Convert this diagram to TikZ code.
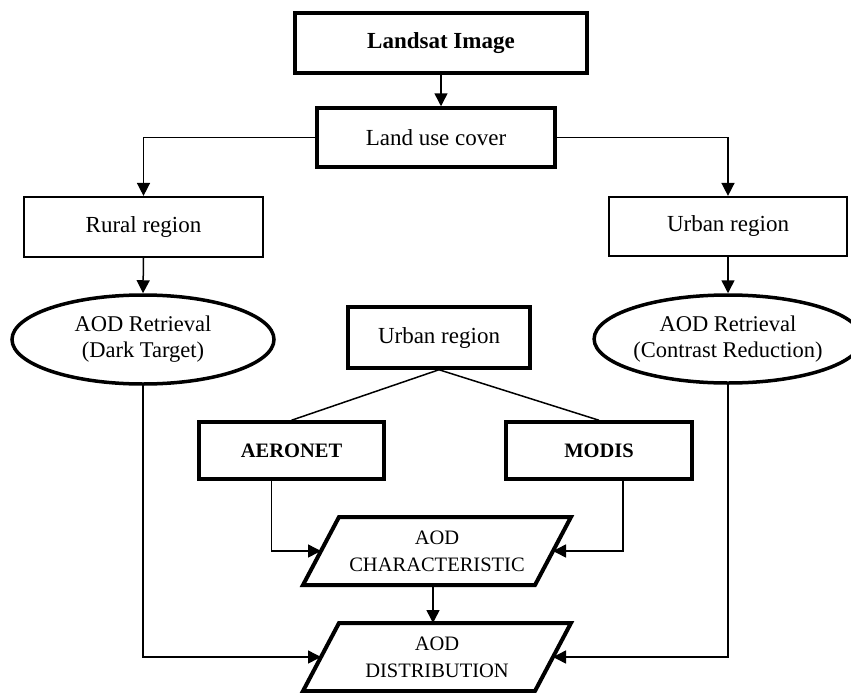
\documentclass[tikz,border=0pt]{standalone}
\usepackage{fontspec}
\setmainfont{Liberation Serif}
\usetikzlibrary{arrows.meta,shapes.geometric,calc}
\begin{document}
\begin{tikzpicture}[x=1pt,y=-1pt,
  box/.style={draw, line width=3.5pt, inner sep=0pt, align=center, font=\fontsize{23}{26}\selectfont},
  thinbox/.style={draw, line width=2.2pt, inner sep=0pt, align=center, font=\fontsize{23}{26}\selectfont},
  smallbold/.style={font=\fontsize{20.5}{24}\selectfont\bfseries},
  oval/.style={ellipse, draw, line width=3.5pt, inner sep=0pt, align=center, font=\fontsize{22.5}{26}\selectfont},
  conn/.style={line width=1.5pt},
  arr/.style={conn, -{Triangle[length=13pt,width=13pt]}},
  ptext/.style={align=center, inner sep=0pt, font=\fontsize{20.5}{27}\selectfont},
  para/.style={line width=4pt, line join=miter}
]
\useasboundingbox[fill=white] (0,0) rectangle (851,693);

% boxes
\node[box, minimum width=292, minimum height=60] (landsat) at (441,43) {\textbf{Landsat Image}};
\node[box, minimum width=238, minimum height=59] (landuse) at (436,137.5) {Land use cover};
\node[thinbox, minimum width=239, minimum height=60] (rural) at (143.5,227) {Rural region};
\node[thinbox, minimum width=238, minimum height=59] (urbanR) at (728,226.5) {Urban region};
\node[oval, minimum width=262, minimum height=89] (aodL) at (143,339.5) {AOD Retrieval\\(Dark Target)};
\node[oval, minimum width=266, minimum height=88] (aodR) at (728,339) {AOD Retrieval\\(Contrast Reduction)};
\node[box, minimum width=182, minimum height=61] (urbanM) at (439,337.5) {Urban region};
\node[box, smallbold, minimum width=185, minimum height=57] (aer) at (291.5,450.5) {AERONET};
\node[box, smallbold, minimum width=186, minimum height=57] (modis) at (599,450.5) {MODIS};

% parallelograms
\coordinate (c1) at (437,551);
\coordinate (c2) at (437,657);
\draw[para] ($(c1)+(-98,-34)$) -- ($(c1)+(134,-34)$) -- ($(c1)+(98,34)$) -- ($(c1)+(-134,34)$) -- cycle;
\draw[para] ($(c2)+(-98,-34)$) -- ($(c2)+(134,-34)$) -- ($(c2)+(98,34)$) -- ($(c2)+(-134,34)$) -- cycle;
\node[ptext] (char) at (c1) {AOD\\CHARACTERISTIC};
\node[ptext] (dist) at (c2) {AOD\\DISTRIBUTION};
\coordinate (charW) at ($(c1)+(-116,0)$);
\coordinate (charE) at ($(c1)+(116,0)$);
\coordinate (charS) at ($(c1)+(-4,34)$);
\coordinate (distN) at ($(c2)+(-4,-34)$);
\coordinate (distW) at ($(c2)+(-116,0)$);
\coordinate (distE) at ($(c2)+(116,0)$);

% connectors
\draw[arr] (landsat.south) -- (landsat.south |- landuse.north);
\draw[arr] (landuse.west) -| (rural.north);
\draw[arr] (landuse.east) -| (urbanR.north);
\draw[arr] (rural.south) -- (aodL.north);
\draw[arr] (urbanR.south) -- (aodR.north);
\draw[conn] (urbanM.south) -- (aer.north);
\draw[conn] (urbanM.south) -- (modis.north);
\draw[arr] ([xshift=-20pt]aer.south) |- (charW);
\draw[arr] ([xshift=24pt]modis.south) |- (charE);
\draw[arr] (charS) -- (distN);
\draw[arr] (aodL.south) |- (distW);
\draw[arr] (aodR.south) |- (distE);
\end{tikzpicture}
\end{document}
